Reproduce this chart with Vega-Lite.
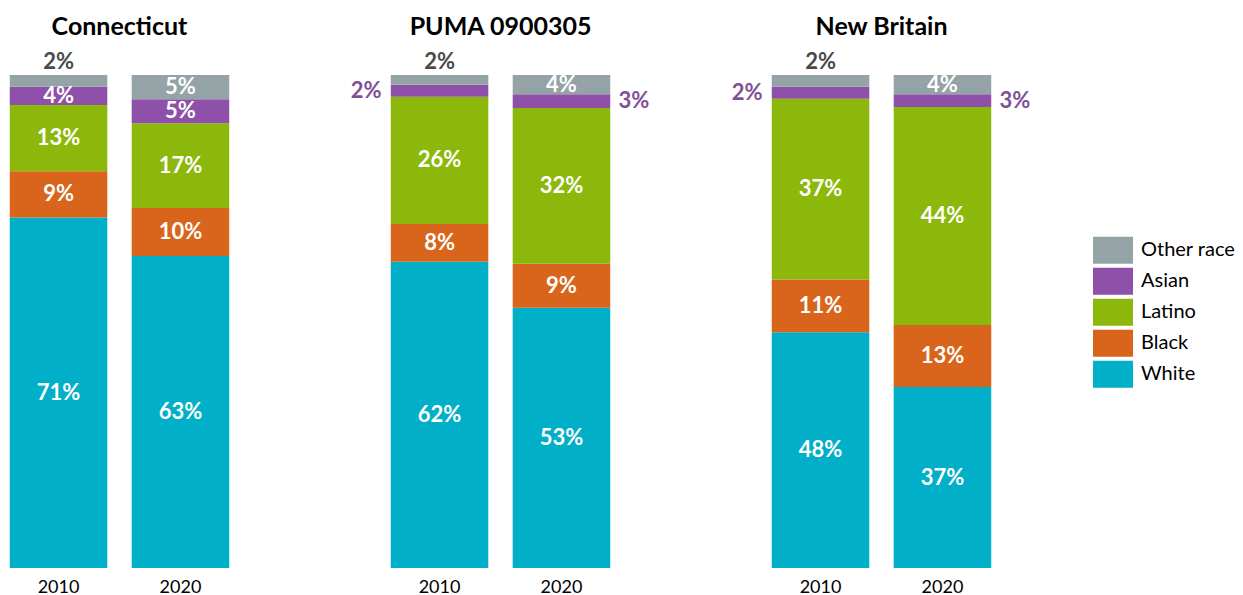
{
  "$schema": "https://vega.github.io/schema/vega-lite/v6.json",
  "padding": {"left": 0, "top": 15, "right": 0, "bottom": 0},
  "bounds": "flush",
  "config": {
    "font": "Lato",
    "view": {"stroke": null},
    "header": {"labelFont": "Lato", "labelFontSize": 25, "labelFontWeight": "bold", "labelColor": "#000000", "labelPadding": 35}
  },
  "data": {
    "values": [
      {"region": "Connecticut", "year": "2010", "race": "White", "share": 0.711},
      {"region": "Connecticut", "year": "2010", "race": "Black", "share": 0.094},
      {"region": "Connecticut", "year": "2010", "race": "Latino", "share": 0.134},
      {"region": "Connecticut", "year": "2010", "race": "Asian", "share": 0.037},
      {"region": "Connecticut", "year": "2010", "race": "Other race", "share": 0.024},
      {"region": "Connecticut", "year": "2020", "race": "White", "share": 0.633},
      {"region": "Connecticut", "year": "2020", "race": "Black", "share": 0.097},
      {"region": "Connecticut", "year": "2020", "race": "Latino", "share": 0.172},
      {"region": "Connecticut", "year": "2020", "race": "Asian", "share": 0.049},
      {"region": "Connecticut", "year": "2020", "race": "Other race", "share": 0.049},
      {"region": "PUMA 0900305", "year": "2010", "race": "White", "share": 0.621},
      {"region": "PUMA 0900305", "year": "2010", "race": "Black", "share": 0.077},
      {"region": "PUMA 0900305", "year": "2010", "race": "Latino", "share": 0.258},
      {"region": "PUMA 0900305", "year": "2010", "race": "Asian", "share": 0.024},
      {"region": "PUMA 0900305", "year": "2010", "race": "Other race", "share": 0.020},
      {"region": "PUMA 0900305", "year": "2020", "race": "White", "share": 0.528},
      {"region": "PUMA 0900305", "year": "2020", "race": "Black", "share": 0.089},
      {"region": "PUMA 0900305", "year": "2020", "race": "Latino", "share": 0.316},
      {"region": "PUMA 0900305", "year": "2020", "race": "Asian", "share": 0.028},
      {"region": "PUMA 0900305", "year": "2020", "race": "Other race", "share": 0.039},
      {"region": "New Britain", "year": "2010", "race": "White", "share": 0.478},
      {"region": "New Britain", "year": "2010", "race": "Black", "share": 0.107},
      {"region": "New Britain", "year": "2010", "race": "Latino", "share": 0.367},
      {"region": "New Britain", "year": "2010", "race": "Asian", "share": 0.024},
      {"region": "New Britain", "year": "2010", "race": "Other race", "share": 0.024},
      {"region": "New Britain", "year": "2020", "race": "White", "share": 0.367},
      {"region": "New Britain", "year": "2020", "race": "Black", "share": 0.126},
      {"region": "New Britain", "year": "2020", "race": "Latino", "share": 0.442},
      {"region": "New Britain", "year": "2020", "race": "Asian", "share": 0.026},
      {"region": "New Britain", "year": "2020", "race": "Other race", "share": 0.039}
    ]
  },
  "transform": [
    {"calculate": "indexof(['White','Black','Latino','Asian','Other race'], datum.race)", "as": "stackOrder"},
    {"stack": "share", "groupby": ["region", "year"], "sort": [{"field": "stackOrder", "order": "ascending"}], "as": ["y0", "y1"]},
    {"calculate": "(datum.y0 + datum.y1) / 2", "as": "mid"}
  ],
  "facet": {
    "column": {"field": "region", "type": "nominal", "sort": ["Connecticut", "PUMA 0900305", "New Britain"], "title": null}
  },
  "spacing": 142,
  "spec": {
    "width": 239,
    "height": 493,
    "encoding": {
      "x": {
        "field": "year", "type": "nominal", "title": null,
        "scale": {"paddingInner": 0.2, "paddingOuter": 0.08},
        "axis": {"labelAngle": 0, "labelFontSize": 18, "labelColor": "#000000", "ticks": false, "domain": false, "labelPadding": 10, "labelFont": "Lato"}
      }
    },
    "layer": [
      {
        "mark": {"type": "bar"},
        "encoding": {
          "y": {"field": "y0", "type": "quantitative", "scale": {"domain": [0, 1], "nice": false}, "axis": null},
          "y2": {"field": "y1"},
          "color": {
            "field": "race", "type": "nominal",
            "scale": {"domain": ["Other race", "Asian", "Latino", "Black", "White"], "range": ["#94a4a6", "#8e50a8", "#8cb80c", "#d8651b", "#02afc8"]},
            "legend": {
              "title": null, "orient": "none", "legendX": 1093, "legendY": 160,
              "labelFontSize": 20, "labelFont": "Lato", "labelColor": "#000000",
              "symbolType": "M-1,-0.68H1V0.68H-1Z", "symbolSize": 1600, "symbolStrokeWidth": 0, "symbolOpacity": 1,
              "labelOffset": 8, "rowPadding": 0, "clipHeight": 30.5
            }
          }
        }
      },
      {
        "transform": [{"filter": "datum.share >= 0.035"}],
        "mark": {"type": "text", "color": "#ffffff", "fontSize": 22, "fontWeight": "bold", "baseline": "middle"},
        "encoding": {
          "y": {"field": "mid", "type": "quantitative"},
          "text": {"field": "share", "type": "quantitative", "format": ".0%"}
        }
      },
      {
        "transform": [{"filter": "datum.share < 0.035 && datum.race == 'Other race'"}],
        "mark": {"type": "text", "color": "#4a4a4a", "fontSize": 22, "fontWeight": "bold", "baseline": "middle", "dy": -13},
        "encoding": {
          "y": {"field": "y1", "type": "quantitative"},
          "text": {"field": "share", "type": "quantitative", "format": ".0%"}
        }
      },
      {
        "transform": [{"filter": "datum.share < 0.035 && datum.race == 'Asian' && datum.year == '2010'"}],
        "mark": {"type": "text", "color": "#7f4f97", "fontSize": 22, "fontWeight": "bold", "baseline": "middle", "align": "right", "dx": -58},
        "encoding": {
          "y": {"field": "mid", "type": "quantitative"},
          "text": {"field": "share", "type": "quantitative", "format": ".0%"}
        }
      },
      {
        "transform": [{"filter": "datum.share < 0.035 && datum.race == 'Asian' && datum.year == '2020'"}],
        "mark": {"type": "text", "color": "#7f4f97", "fontSize": 22, "fontWeight": "bold", "baseline": "middle", "align": "left", "dx": 57},
        "encoding": {
          "y": {"field": "mid", "type": "quantitative"},
          "text": {"field": "share", "type": "quantitative", "format": ".0%"}
        }
      }
    ]
  }
}
